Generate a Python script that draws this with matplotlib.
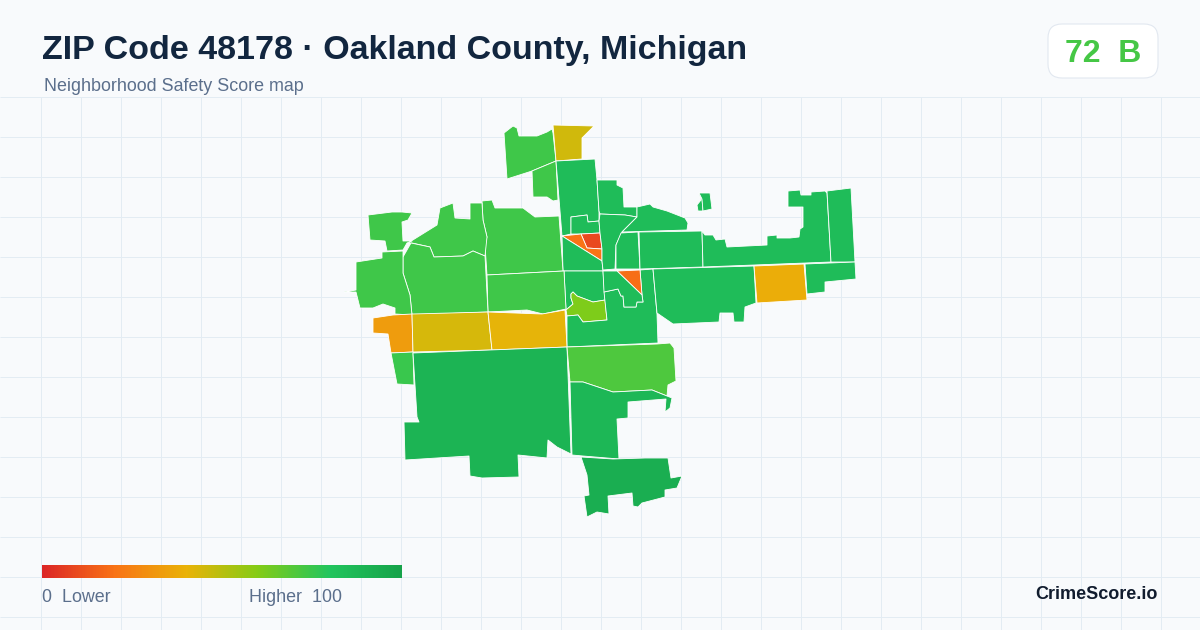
import numpy as np
import matplotlib
matplotlib.use('Agg')
import matplotlib.pyplot as plt
from matplotlib.colors import LinearSegmentedColormap
from matplotlib.patches import FancyBboxPatch

plt.rcParams['font.family'] = ['Liberation Sans', 'DejaVu Sans']

title = 'ZIP Code 48178 · Oakland County, Michigan'
subtitle = 'Neighborhood Safety Score map'
badge_text = '72  B'
brand = 'CrimeScore.io'

# legend colours, evenly spaced from score 0 to 100
legend_colors = ['#dc2626', '#f97316', '#eab308', '#84cc16', '#22c55e', '#16a34a']

# tracts: outline (pixels), score from the colour
north_block = [(504,133),(513,126),(517,128),(519,136),(537,136),(547,132),(552,129),(553,133),(556,161),(532,171),(507,179)]
north_yellow = [(553,125),(594,126),(582,138),(582,159),(556,161)]
north_small = [(532,171),(556,161),(558,200),(553,201),(547,197),(533,197)]
center_column = [(556,161),(595,159),(597,180),(599,211),(599,221),(588,222),(587,215),(571,217),(571,234),(562,236)]
center_inner = [(571,217),(587,215),(588,222),(599,221),(600,233),(581,234),(571,234)]
red_cell = [(581,234),(600,233),(602,249),(587,248)]
orange_l = [(562,236),(581,234),(587,248),(602,249),(602,261)]
under_tri = [(562,236),(602,261),(603,271),(563,271)]
above_lime = [(564,271),(603,271),(605,300),(593,302),(585,299),(577,296),(573,292),(571,294),(571,298),(573,304),(566,310)]
lime_cell = [(571,294),(573,292),(577,296),(585,299),(593,302),(605,300),(607,320),(583,322),(578,315),(567,316),(566,310),(573,304),(571,298)]
center_south = [(567,316),(578,315),(583,322),(607,320),(604,292),(618,289),(621,296),(623,296),(624,307),(636,307),(637,302),(643,302),(642,295),(640,270),(653,269),(657,314),(658,343),(567,347)]
orange_tip = [(617,271),(640,270),(642,295)]
cell_g = [(603,271),(617,271),(642,295),(643,302),(637,302),(636,307),(624,307),(623,296),(621,296),(618,289),(604,292)]
mid_top = [(597,180),(617,180),(617,185),(623,188),(624,207),(637,207),(637,217),(625,215),(600,214),(599,211)]
mid_long = [(600,214),(625,215),(637,217),(622,232),(616,245),(615,269),(603,270),(602,261),(602,249),(600,233),(599,221)]
cell_i = [(621,233),(638,232),(640,269),(616,269),(616,245)]
cell_j = [(637,207),(650,204),(653,207),(667,211),(685,218),(688,223),(687,230),(622,232),(637,217)]
cell_k = [(639,232),(702,231),(703,267),(640,269)]
east_long = [(702,231),(705,235),(713,235),(716,240),(725,239),(727,247),(747,246),(767,245),(767,236),(777,235),(777,238),(790,238),(799,237),(800,229),(803,227),(803,207),(788,207),(788,191),(800,190),(801,195),(811,195),(811,192),(825,191),(827,193),(831,262),(703,267)]
far_east = [(827,191),(851,188),(855,262),(831,262)]
island_a = [(699,193),(702,199),(703,211),(698,211),(697,205),(701,200)]
island_b = [(699,193),(710,193),(712,209),(703,211),(702,199)]
cell_n = [(653,269),(754,266),(756,303),(745,307),(744,322),(734,322),(733,313),(720,313),(719,322),(673,324),(657,313)]
orange_square = [(754,266),(804,264),(807,300),(757,303)]
cell_o = [(805,264),(855,262),(856,279),(825,282),(825,292),(807,294)]
cell_p = [(482,201),(492,200),(495,208),(510,208),(523,208),(535,217),(559,216),(563,271),(487,275),(485,245),(487,237),(483,220)]
cell_q = [(487,275),(564,271),(566,309),(543,314),(527,310),(488,312)]
cell_r = [(408,243),(437,225),(440,208),(453,203),(455,218),(470,219),(470,203),(482,203),(483,220),(487,237),(485,256),(473,251),(463,256),(434,257),(430,247),(412,243)]
cell_s = [(411,243),(430,247),(434,257),(463,256),(473,251),(485,256),(488,312),(412,315),(410,295),(403,273),(403,257)]
cell_t = [(368,215),(392,212),(402,212),(412,213),(408,220),(402,222),(403,241),(412,241),(407,243),(403,250),(387,251),(385,241),(370,240)]
cell_u = [(382,252),(403,251),(403,273),(410,295),(412,315),(395,314),(395,308),(383,304),(373,308),(360,308),(356,292),(344,292),(356,290),(356,262),(382,258)]
west_orange = [(373,318),(393,315),(412,314),(413,352),(391,353),(388,334),(373,333)]
yellow_w = [(412,314),(488,312),(492,350),(413,352)]
yellow_x = [(488,312),(542,314),(565,310),(567,347),(492,350)]
cell_y = [(391,353),(413,352),(414,385),(397,384)]
south_big = [(413,353),(567,347),(571,454),(557,447),(548,440),(547,458),(518,455),(519,477),(482,478),(470,476),(469,456),(405,460),(404,422),(419,422),(417,417)]
cell_aa = [(567,347),(657,344),(670,343),(674,348),(676,381),(668,385),(667,396),(652,390),(613,392),(583,382),(570,382)]
cell_bb = [(570,382),(583,382),(613,392),(652,390),(672,398),(670,408),(665,412),(666,399),(628,402),(628,418),(617,419),(619,459),(583,456),(572,455)]
cell_cc = [(581,457),(613,459),(645,458),(668,458),(671,478),(682,476),(677,488),(665,490),(665,497),(642,503),(638,507),(633,506),(632,493),(608,496),(609,514),(597,512),(587,517),(584,496),(589,495),(587,475)]

tracts = [north_block, north_yellow, north_small, center_column, center_inner, red_cell, orange_l,
          under_tri, above_lime, lime_cell, center_south, orange_tip, cell_g, mid_top, mid_long,
          cell_i, cell_j, cell_k, east_long, far_east, island_a, island_b, cell_n, orange_square,
          cell_o, cell_p, cell_q, cell_r, cell_s, cell_t, cell_u, west_orange, yellow_w, yellow_x,
          cell_y, south_big, cell_aa, cell_bb, cell_cc]
scores = [74, 45, 74, 85, 85, 9, 20,
          85, 85, 61, 85, 19, 85, 85, 85,
          85, 85, 85, 85, 85, 85, 85, 85, 38,
          85, 74, 74, 74, 74, 74, 74, 33, 44, 41,
          75, 90, 71, 88, 93]

cmap = LinearSegmentedColormap.from_list('score', legend_colors)

fig = plt.figure(figsize=(12, 6.3), dpi=100, facecolor='#f8fafc')
ax = fig.add_axes([0, 0, 1, 1])
ax.set_xlim(0, 1200)
ax.set_ylim(630, 0)
ax.axis('off')

# background grid
grid_x = np.arange(40, 1200, 40)
grid_y = np.arange(96, 630, 40)
ax.vlines(grid_x + 0.5, 96.5, 630, color='#e3ecf3', lw=0.72, zorder=1)
ax.hlines(grid_y + 0.5, 0, 1200, color='#e3ecf3', lw=0.72, zorder=1)

# map
for outline, score in zip(tracts, scores):
    xs = [p[0] for p in outline]
    ys = [p[1] for p in outline]
    ax.fill(xs, ys, facecolor=cmap(score / 100), edgecolor='white', lw=0.6, joinstyle='round', zorder=2)

# header
ax.text(42, 59, title, fontsize=24.5, fontweight='bold', color='#12263f', ha='left', va='baseline', zorder=3)
ax.text(44, 91, subtitle, fontsize=12.9, color='#5b6f8c', ha='left', va='baseline', zorder=3)

# score badge
badge = FancyBboxPatch((1060, 36), 86, 30, boxstyle='round,pad=12,rounding_size=14',
                       facecolor='white', edgecolor='#e2e8f0', lw=0.8, zorder=3)
ax.add_patch(badge)
ax.text(1103, 62, badge_text, fontsize=23, fontweight='bold', color=cmap(73 / 100), ha='center', va='baseline', zorder=4)

# legend
gradient = np.linspace(0, 1, 360).reshape(1, -1)
ax.imshow(gradient, cmap=cmap, extent=(42, 402, 578, 565), aspect='auto', zorder=3)
ax.set_xlim(0, 1200)
ax.set_ylim(630, 0)
ax.text(42, 602, '0  Lower', fontsize=12.9, color='#5b6f8c', ha='left', va='baseline', zorder=3)
ax.text(249, 602, 'Higher  100', fontsize=12.9, color='#5b6f8c', ha='left', va='baseline', zorder=3)
ax.text(1158, 599, brand, fontsize=13, fontweight='bold', color='#111c2e', ha='right', va='baseline', zorder=3)

fig.savefig('out.png', dpi=100, facecolor=fig.get_facecolor())
